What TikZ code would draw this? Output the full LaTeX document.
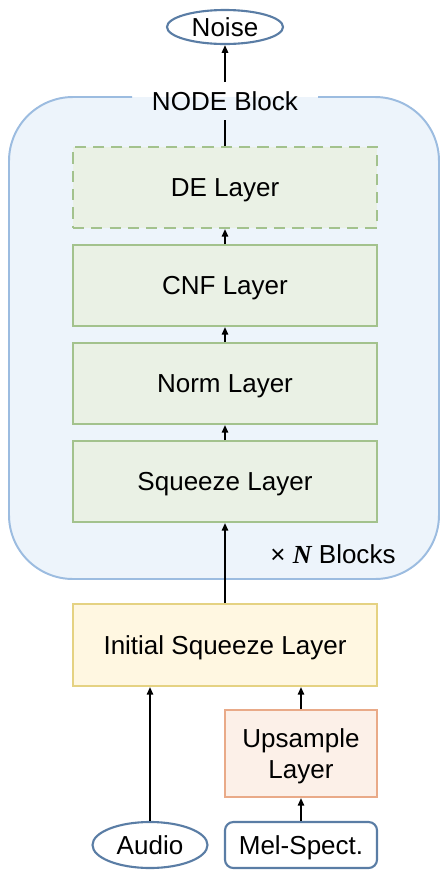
\documentclass[tikz,border=0pt]{standalone}
\usepackage{fontspec}
\setmainfont{Liberation Sans}
\newfontfamily\serifN{Liberation Serif}
\usetikzlibrary{positioning,shapes,arrows.meta}

\definecolor{blockfill}{HTML}{EDF4FB}
\definecolor{blockline}{HTML}{9CBCE0}
\definecolor{layerfill}{HTML}{EAF1E5}
\definecolor{layerline}{HTML}{A3C28D}
\definecolor{initfill}{HTML}{FFF7E1}
\definecolor{initline}{HTML}{E5D282}
\definecolor{upfill}{HTML}{FCF0E8}
\definecolor{upline}{HTML}{E9AA88}
\definecolor{ioline}{HTML}{5A7DA5}

\begin{document}
\begin{tikzpicture}[
    x=0.025cm, y=-0.025cm,
    font=\fontsize{18.5}{22}\selectfont,
    layer/.style={draw=layerline, fill=layerfill, line width=1.4pt, minimum width=7.6cm, minimum height=2.025cm, inner sep=0pt, text depth=0pt},
    io/.style={draw=ioline, fill=white, ellipse, line width=1.5pt, inner sep=0pt, text depth=0pt},
    flow/.style={-{Triangle[length=5.5pt,width=4.5pt]}, line width=1.3pt}
]
\useasboundingbox (0,0) rectangle (440,870);

% NODE block frame
\fill[blockfill, rounded corners=1.6cm] (9,97) rectangle (439,579);
\draw[blockline, line width=1.4pt, rounded corners=1.6cm] (318,97) -- (439,97) -- (439,579) -- (9,579) -- (9,97) -- (132,97);
\node[minimum height=0.925cm, inner sep=0pt] (nodelbl) at (225,101) {NODE Block};
\node (nblocks) at (333,554) {× {\serifN\bfseries\itshape N} Blocks};

% Layers
\node[layer, dashed, dash pattern=on 8pt off 5pt] (de) at (225,187.5) {DE Layer};
\node[layer] (cnf) at (225,285.5) {CNF Layer};
\node[layer] (norm) at (225,383.5) {Norm Layer};
\node[layer] (squeeze) at (225,481.5) {Squeeze Layer};
\node[layer, draw=initline, fill=initfill, minimum height=2.05cm] (initial) at (225,645) {Initial Squeeze Layer};
\node[layer, draw=upline, fill=upfill, minimum width=3.8cm, minimum height=2.175cm, align=center] (upsample) at (301,753.5) {Upsample\\Layer};

% Inputs and output
\node[io, minimum width=2.9cm, minimum height=0.85cm] (noise) at (225,27) {Noise};
\node[io, minimum width=2.875cm, minimum height=1.15cm] (audio) at (150,845) {Audio};
\node[io, rectangle, rounded corners=6pt, minimum width=3.8cm, minimum height=1.15cm] (mel) at (301,845) {Mel-Spect.};

% Connections
\draw[flow] (mel) -- (upsample);
\draw[flow] (upsample) -- (upsample |- initial.south);
\draw[flow] (audio) -- (audio |- initial.south);
\draw[flow] (initial) -- (squeeze);
\draw[flow] (squeeze) -- (norm);
\draw[flow] (norm) -- (cnf);
\draw[flow] (cnf) -- (de);
\draw[line width=1.3pt] (de) -- (nodelbl);
\draw[flow] (nodelbl) -- (noise);

\end{tikzpicture}
\end{document}
